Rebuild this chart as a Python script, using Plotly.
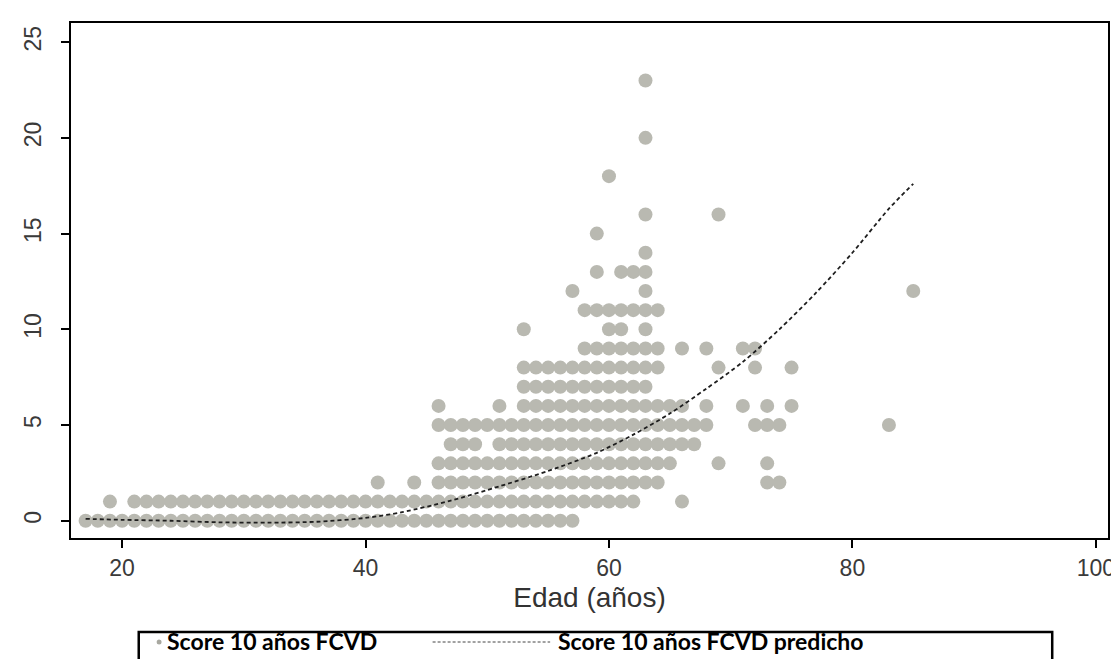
import plotly.graph_objects as go

# ---------------- data ----------------
# Score 10 años FCVD (observed): for each score level, the ages (años) that have a point
ages_s0 = [17, 18, 19, 20, 21, 22, 23, 24, 25, 26, 27, 28, 29, 30, 31, 32, 33, 34, 35, 36, 37,
           38, 39, 40, 41, 42, 43, 44, 45, 46, 47, 48, 49, 50, 51, 52, 53, 54, 55, 56, 57]
ages_s1 = [19, 21, 22, 23, 24, 25, 26, 27, 28, 29, 30, 31, 32, 33, 34, 35, 36, 37, 38, 39, 40,
           41, 42, 43, 44, 45, 46, 47, 48, 49, 50, 51, 52, 53, 54, 55, 56, 57, 58, 59, 60, 61,
           62, 66]
ages_s2 = [41, 44, 46, 47, 48, 49, 50, 51, 52, 53, 54, 55, 56, 57, 58, 59, 60, 61, 62, 63, 64,
           73, 74]
ages_s3 = [46, 47, 48, 49, 50, 51, 52, 53, 54, 55, 56, 57, 58, 59, 60, 61, 62, 63, 64, 65,
           69, 73]
ages_s4 = [47, 48, 49, 51, 52, 53, 54, 55, 56, 57, 58, 59, 60, 61, 62, 63, 64, 65, 66, 67]
ages_s5 = [46, 47, 48, 49, 50, 51, 52, 53, 54, 55, 56, 57, 58, 59, 60, 61, 62, 63, 64, 65,
           66, 67, 68, 72, 73, 74, 83]
ages_s6 = [46, 51, 53, 54, 55, 56, 57, 58, 59, 60, 61, 62, 63, 64, 65, 66, 68, 71, 73, 75]
ages_s7 = [53, 54, 55, 56, 57, 58, 59, 60, 61, 62, 63]
ages_s8 = [53, 54, 55, 56, 57, 58, 59, 60, 61, 62, 63, 64, 69, 72, 75]
ages_s9 = [58, 59, 60, 61, 62, 63, 64, 66, 68, 71, 72]
ages_s10 = [53, 60, 61, 63]
ages_s11 = [58, 59, 60, 61, 62, 63, 64]
ages_s12 = [57, 63, 85]
ages_s13 = [59, 61, 62, 63]
ages_s14 = [63]
ages_s15 = [59]
ages_s16 = [63, 69]
ages_s18 = [60]
ages_s20 = [63]
ages_s23 = [63]

score_levels = [0, 1, 2, 3, 4, 5, 6, 7, 8, 9, 10, 11, 12, 13, 14, 15, 16, 18, 20, 23]
ages_by_level = [ages_s0, ages_s1, ages_s2, ages_s3, ages_s4, ages_s5, ages_s6, ages_s7,
                 ages_s8, ages_s9, ages_s10, ages_s11, ages_s12, ages_s13, ages_s14,
                 ages_s15, ages_s16, ages_s18, ages_s20, ages_s23]

# Score 10 años FCVD predicho (dashed curve)
pred_age = [17, 20, 24, 28, 32, 36, 40, 43, 47, 51, 55, 59, 62, 65, 68, 71, 74, 77, 80, 83, 85]
pred_score = [0.1, 0.05, 0.0, -0.08, -0.1, -0.05, 0.15, 0.45, 1.05, 1.8, 2.6, 3.55, 4.5,
              5.6, 6.9, 8.3, 10.0, 11.9, 14.0, 16.3, 17.6]

x_ticks = [20, 40, 60, 80, 100]
y_ticks = [0, 5, 10, 15, 20, 25]

legend_labels = ["Score 10 años FCVD", "Score 10 años FCVD predicho"]
x_title = "Edad (años)"

# ---------------- figure ----------------
W, H = 1119, 659
ML, MR, MT, MB = 62, 16, 15, 129

obs_x, obs_y = [], []
for lvl, ages in zip(score_levels, ages_by_level):
    for a in ages:
        obs_x.append(a)
        obs_y.append(lvl)

fig = go.Figure()
fig.add_trace(go.Scatter(
    x=obs_x, y=obs_y, mode="markers", name=legend_labels[0],
    marker=dict(size=14, color="#b9b9b1", line=dict(width=0)),
    showlegend=False, hoverinfo="x+y"))
fig.add_trace(go.Scatter(
    x=pred_age, y=pred_score, mode="lines", name=legend_labels[1],
    line=dict(color="#1e1e1e", width=1.8, dash="4px,3px", shape="spline", smoothing=0.8),
    showlegend=False))

tick_font = dict(family="Liberation Sans, Arial, sans-serif", size=23, color="#3a3a3a")
axis_common = dict(showline=True, linecolor="black", linewidth=2, mirror=True,
                   ticks="outside", ticklen=8, tickwidth=2, tickcolor="black",
                   showgrid=False, zeroline=False, tickfont=tick_font)

fig.update_xaxes(range=[15.8, 101.0], tickvals=x_ticks, **axis_common,
                 title=dict(text=x_title, standoff=8,
                            font=dict(family="Liberation Sans, Arial, sans-serif", size=28,
                                      color="#333333")))
fig.update_yaxes(range=[-0.9, 26.0], tickvals=y_ticks, tickangle=-90,
                 ticklabelstandoff=11, **axis_common)

# manual legend box below the plot (page pixel -> paper coords)
pw = W - ML - MR
ph = H - MT - MB


def fx(px):
    return (px - ML) / pw


def fy(py):
    return (H - MB - py) / ph


fig.add_shape(type="rect", xref="paper", yref="paper",
              x0=fx(130), x1=fx(1047), y0=fy(624), y1=fy(680),
              line=dict(color="black", width=2.5), fillcolor="white", layer="above")
fig.add_shape(type="circle", xref="paper", yref="paper",
              x0=fx(148), x1=fx(153), y0=fy(631.5), y1=fy(636.5),
              line=dict(width=0), fillcolor="#a8a8a0", layer="above")
fig.add_shape(type="line", xref="paper", yref="paper",
              x0=fx(425), x1=fx(543), y0=fy(634), y1=fy(634),
              line=dict(color="#444444", width=1, dash="3px,2px"), layer="above")
legend_font = dict(family="Lato, Noto Sans, sans-serif", size=23, color="black",
                   weight="bold")
fig.add_annotation(xref="paper", yref="paper", x=fx(156), y=fy(633), text=legend_labels[0],
                   showarrow=False, xanchor="left", yanchor="middle", font=legend_font)
fig.add_annotation(xref="paper", yref="paper", x=fx(549), y=fy(633), text=legend_labels[1],
                   showarrow=False, xanchor="left", yanchor="middle", font=legend_font)

fig.update_layout(width=W, height=H, margin=dict(l=ML, r=MR, t=MT, b=MB, pad=0),
                  paper_bgcolor="white", plot_bgcolor="white", showlegend=False)

fig.write_html("out.html")
